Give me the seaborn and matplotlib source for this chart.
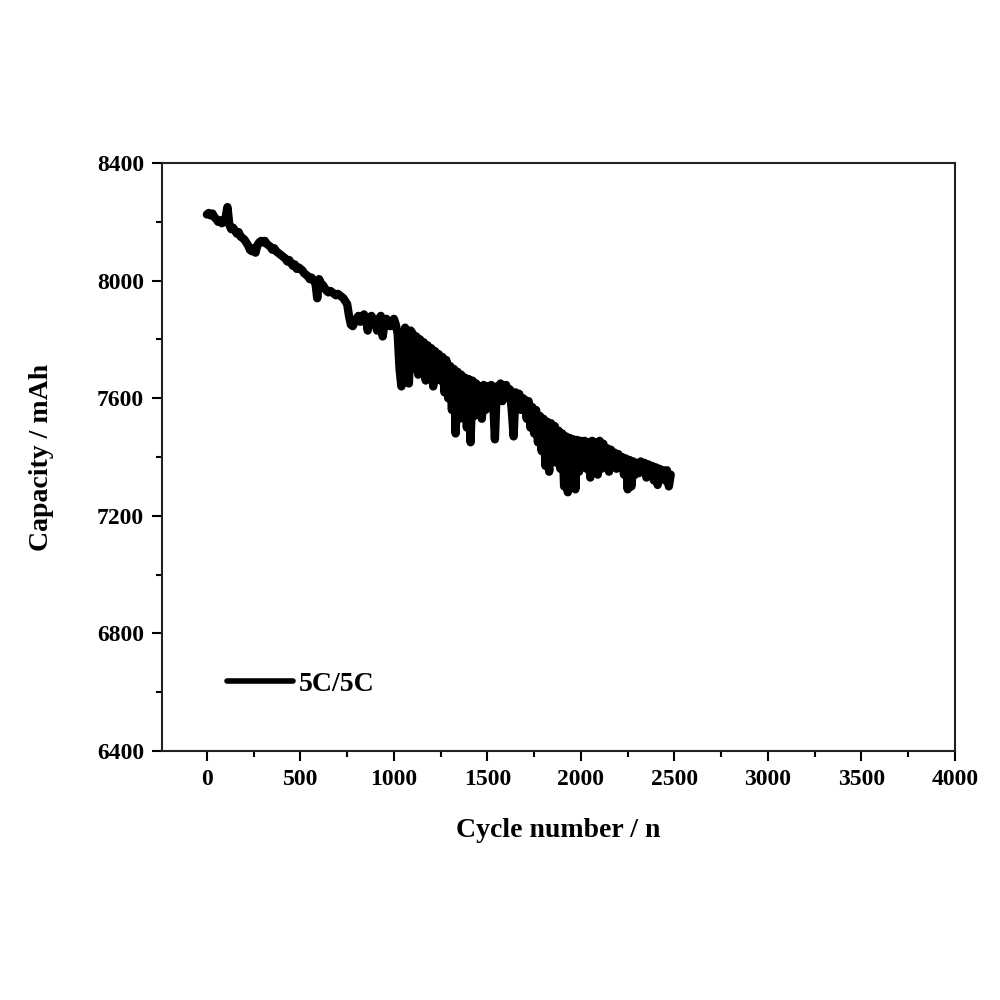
import matplotlib
matplotlib.use("Agg")
import matplotlib.pyplot as plt
from matplotlib.ticker import MultipleLocator
import seaborn as sns
import pandas as pd

cycles = list(range(0, 2490, 10))
capacity = [
    8225, 8230, 8222, 8228, 8215, 8210, 8200, 8205, 8195, 8200,
    8215, 8250, 8190, 8175, 8180, 8170, 8160, 8165, 8150, 8145,
    8140, 8130, 8120, 8105, 8100, 8110, 8095, 8120, 8130, 8135,
    8130, 8135, 8125, 8120, 8115, 8105, 8110, 8100, 8095, 8090,
    8085, 8080, 8075, 8065, 8070, 8060, 8050, 8055, 8040, 8045,
    8040, 8035, 8025, 8020, 8015, 8005, 8010, 8000, 7995, 7940,
    8005, 7990, 7985, 7975, 7965, 7960, 7965, 7960, 7955, 7950,
    7955, 7950, 7945, 7940, 7930, 7920, 7880, 7850, 7845, 7860,
    7870, 7880, 7860, 7875, 7885, 7870, 7830, 7875, 7880, 7865,
    7860, 7830, 7870, 7880, 7810, 7860, 7870, 7855, 7845, 7860,
    7870, 7850, 7820, 7700, 7640, 7660, 7840, 7820, 7650, 7830,
    7820, 7700, 7810, 7680, 7800, 7700, 7790, 7660, 7780, 7700,
    7770, 7640, 7760, 7690, 7750, 7660, 7740, 7620, 7730, 7600,
    7710, 7560, 7700, 7480, 7690, 7530, 7680, 7560, 7670, 7500,
    7665, 7450, 7660, 7540, 7650, 7560, 7640, 7530, 7645, 7560,
    7640, 7570, 7645, 7600, 7460, 7640, 7600, 7650, 7590, 7640,
    7645, 7600, 7630, 7560, 7470, 7620, 7580, 7615, 7560, 7600,
    7595, 7530, 7590, 7500, 7570, 7480, 7560, 7450, 7540, 7420,
    7530, 7370, 7520, 7350, 7515, 7400, 7505, 7380, 7490, 7360,
    7480, 7300, 7470, 7280, 7465, 7380, 7460, 7290, 7458, 7350,
    7455, 7380, 7455, 7360, 7450, 7330, 7455, 7380, 7450, 7340,
    7455, 7360, 7445, 7390, 7430, 7350, 7425, 7380, 7415, 7360,
    7410, 7370, 7400, 7340, 7395, 7290, 7390, 7300, 7385, 7340,
    7380, 7345, 7385, 7350, 7380, 7330, 7375, 7340, 7370, 7320,
    7365, 7305, 7360, 7330, 7355, 7320, 7355, 7300, 7340,
]
series_name = "5C/5C"
x_ticks = [0, 500, 1000, 1500, 2000, 2500, 3000, 3500, 4000]
y_ticks = [6400, 6800, 7200, 7600, 8000, 8400]

df = pd.DataFrame({"cycle": cycles, "capacity": capacity, "series": series_name})

sns.set_theme(style="ticks")
plt.rcParams["font.family"] = ["Liberation Serif", "DejaVu Serif"]
plt.rcParams["font.weight"] = "bold"
plt.rcParams["text.color"] = "black"
plt.rcParams["axes.labelcolor"] = "black"
plt.rcParams["xtick.color"] = "black"
plt.rcParams["ytick.color"] = "black"

fig = plt.figure(figsize=(10, 10), dpi=100)
ax = fig.add_axes([0.162, 0.249, 0.793, 0.588])

sns.lineplot(data=df, x="cycle", y="capacity", hue="series", palette=["black"],
             linewidth=6, ax=ax, legend=True)

ax.set_xlim(-240, 4000)
ax.set_ylim(6400, 8400)
ax.set_xticks(x_ticks)
ax.set_yticks(y_ticks)
ax.xaxis.set_minor_locator(MultipleLocator(250))
ax.yaxis.set_minor_locator(MultipleLocator(200))
ax.tick_params(axis="both", which="major", direction="out", length=7, width=1.5,
               labelsize=17, colors="black", top=False, right=False, pad=6)
ax.tick_params(axis="both", which="minor", direction="out", length=4, width=1.5,
               colors="black", top=False, right=False)
for lab in ax.get_xticklabels() + ax.get_yticklabels():
    lab.set_fontweight("bold")
for sp in ax.spines.values():
    sp.set_visible(True)
    sp.set_linewidth(1.5)
    sp.set_color("#222222")

ax.set_xlabel("Cycle number / n", fontsize=20, fontweight="bold", labelpad=20,
              color="black")
ax.set_ylabel("Capacity / mAh", fontsize=20, fontweight="bold", labelpad=31,
              color="black")

leg = ax.legend(loc="lower left", bbox_to_anchor=(0.05, 0.05), frameon=False,
                handlelength=2.4, handletextpad=0.2,
                prop={"size": 20, "weight": "bold"})
for line in leg.get_lines():
    line.set_linewidth(4)
for t in leg.get_texts():
    t.set_color("black")

fig.savefig("out.png", dpi=100, facecolor="white")
